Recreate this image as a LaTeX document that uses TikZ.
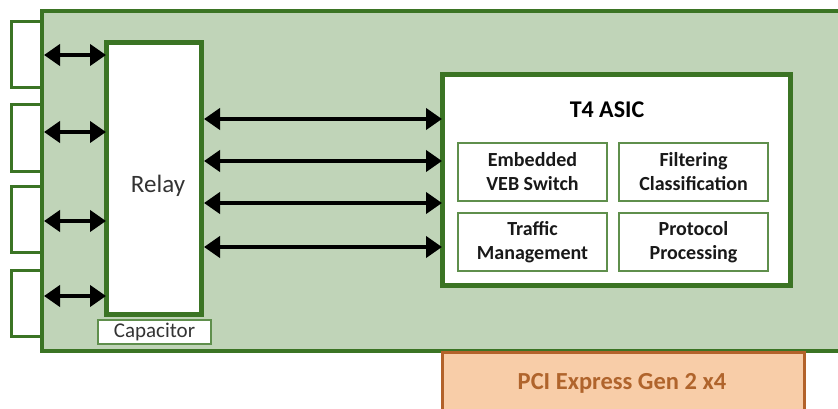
\documentclass[tikz,border=0pt]{standalone}
\usepackage{fontspec}
\setmainfont{Carlito}
\usetikzlibrary{arrows.meta}
\definecolor{boardfill}{HTML}{C0D4B8}
\definecolor{boardline}{HTML}{3B7424}
\definecolor{subline}{HTML}{5F8F4C}
\definecolor{pcifill}{HTML}{F8CDA8}
\definecolor{pciline}{HTML}{B3622A}
\definecolor{pcitext}{HTML}{B0642C}
\begin{document}
\begin{tikzpicture}[x=1pt,y=-1pt,
  box/.style={draw=boardline, fill=white, anchor=north west, inner sep=0pt, outer sep=0pt},
  portbox/.style={box, line width=3pt, minimum width=32pt, minimum height=66pt},
  subbox/.style={draw=subline, fill=white, line width=1.5pt, anchor=north west, inner sep=0pt, outer sep=0pt,
     minimum width=149pt, minimum height=58pt, align=center, font=\fontsize{20}{24}\selectfont\bfseries, text=black!90},
  biarrow/.style={line width=4.5pt, {Triangle[length=16pt,width=21pt]}-{Triangle[length=16pt,width=21pt]}, shorten <=0pt, shorten >=0pt}
]
\useasboundingbox (0,0) rectangle (838,409);
% ports
\node[portbox] (p1) at (11,22) {};
\node[portbox] (p2) at (11,105) {};
\node[portbox] (p3) at (11,186) {};
\node[portbox] (p4) at (11,270) {};
% board
\node[box, fill=boardfill, line width=4pt, minimum width=820pt, minimum height=340pt] (board) at (42,11) {};
% relay
\node[box, line width=5pt, minimum width=95pt, minimum height=271pt] (relay) at (106,43) {};
\node[font=\fontsize{25}{29}\selectfont, text=black!80] (relaytxt) at (158,186) {Relay};
% capacitor
\node[box, draw=subline, line width=1.5pt, minimum width=113pt, minimum height=24pt] (cap) at (98,320) {};
\node[font=\fontsize{21}{24}\selectfont, text=black!80] (captxt) at (cap.center) {Capacitor};
% ASIC
\node[box, line width=5pt, minimum width=348pt, minimum height=210pt] (asic) at (442,75) {};
\node[font=\fontsize{24}{28}\selectfont\bfseries] (asictitle) at (607,110) {T4 ASIC};
\node[subbox] (veb) at (458,143) {Embedded\\VEB Switch};
\node[subbox] (filt) at (619,143) {Filtering\\Classification};
\node[subbox] (traf) at (458,213) {Traffic\\Management};
\node[subbox] (prot) at (619,213) {Protocol\\Processing};
% PCIe
\node[draw=pciline, fill=pcifill, line width=3pt, anchor=north west, inner sep=0pt, minimum width=362pt, minimum height=70pt] (pci) at (441,351) {};
\node[font=\fontsize{24.5}{28}\selectfont\bfseries, text=pcitext] (pcitxt) at (622,383) {PCI Express Gen 2 x4};
% left arrows
\coordinate (l1) at (44,55);
\coordinate (l2) at (44,132);
\coordinate (l3) at (44,221);
\coordinate (l4) at (44,296);
\foreach \i in {1,...,4} { \draw[biarrow] (l\i) -- (relay.west |- l\i); }
% right arrows
\coordinate (r1) at (204,119);
\coordinate (r2) at (204,161);
\coordinate (r3) at (204,203);
\coordinate (r4) at (204,247);
\foreach \i in {1,...,4} { \draw[biarrow] (r\i) -- (asic.west |- r\i); }
\end{tikzpicture}
\end{document}
